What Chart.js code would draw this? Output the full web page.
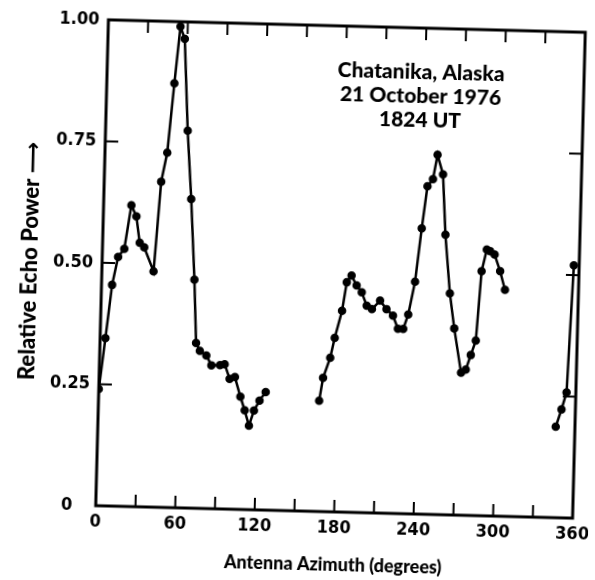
<!DOCTYPE html>
<html>
<head>
<meta charset="utf-8">
<script src="https://cdn.jsdelivr.net/npm/chart.js@4"></script>
<style>
  html, body { margin: 0; padding: 0; background: #fff; overflow: hidden; }
  /* the scanned figure sits slightly turned on the page */
  canvas { display: block; transform-origin: 340.5px 269px; transform: rotate(1.5deg); }
</style>
</head>
<body>
<canvas id="echo_chart" width="595" height="580"></canvas>
<script>
// azimuth (degrees) and relative echo power, null = no data (gap in trace)
const azimuth = [
  0, 4, 8, 12, 16.5, 21, 25, 28, 31.5, 39, 43, 47, 51, 54.5, 58, 62, 66, 70, 72.5, 75.5,
  80.5, 84.5, 91, 94.5, 98.5, 102.5, 107, 110.5, 114, 117.5, 121.5, 126,
  146,
  166.5, 169, 174, 177, 182, 185, 188.5, 192.5, 196.5, 200.5, 204.5, 210.5, 215.5, 220.5,
  224.5, 228.5, 232, 236.5, 240.5, 244, 248, 251, 255.5, 258.5, 263, 267, 273, 276.5,
  280, 283.5, 286.5, 290, 292.5, 296, 300.5, 304.5,
  325,
  345.5, 349.5, 353, 356
];
const echoPower = [
  0.24, 0.345, 0.455, 0.513, 0.53, 0.62, 0.597, 0.543, 0.534, 0.485, 0.67, 0.73, 0.873, 0.99, 0.965, 0.776, 0.636, 0.47, 0.34, 0.324,
  0.315, 0.295, 0.296, 0.298, 0.268, 0.272, 0.232, 0.204, 0.173, 0.204, 0.225, 0.243,
  null,
  0.228, 0.275, 0.317, 0.358, 0.414, 0.473, 0.487, 0.467, 0.453, 0.426, 0.419, 0.437, 0.42, 0.407,
  0.38, 0.38, 0.41, 0.478, 0.588, 0.675, 0.69, 0.74, 0.70, 0.576, 0.456, 0.384, 0.293, 0.30,
  0.33, 0.36, 0.503, 0.548, 0.545, 0.538, 0.504, 0.466,
  null,
  0.187, 0.223, 0.258, 0.52
];

const xTicks = [0, 60, 120, 180, 240, 300, 360];
const xMinorTicks = [30, 60, 90, 120, 150, 180, 210, 240, 270, 300, 330];
const yTicks = [0, 0.25, 0.5, 0.75, 1];
const yTickLabels = ['0\u2007\u2009', '0.25', '0.50', '0.75', '1.00'];
const yMinorTicks = [0.25, 0.5, 0.75];

const noteLines = ['Chatanika, Alaska', '21 October 1976', '1824 UT'];
const noteX = 237;
const noteY = [0.908, 0.859, 0.811];

const labelFont = "'Liberation Sans Narrow', 'DejaVu Sans Condensed', sans-serif";
const textFont = "Lato, 'DejaVu Sans', sans-serif";

// box round the plot with short inward ticks on all four sides
const frameTicks = {
  id: 'frameTicks',
  beforeDatasetsDraw(chart) {
    const { ctx, chartArea: a, scales: { x, y } } = chart;
    ctx.save();
    ctx.strokeStyle = '#000';
    ctx.lineWidth = 3;
    ctx.strokeRect(a.left, a.top, a.right - a.left, a.bottom - a.top);
    ctx.lineWidth = 2;
    ctx.beginPath();
    xMinorTicks.forEach(v => {
      const px = x.getPixelForValue(v);
      ctx.moveTo(px, a.bottom); ctx.lineTo(px, a.bottom - 12);
      ctx.moveTo(px, a.top); ctx.lineTo(px, a.top + 12);
    });
    yMinorTicks.forEach(v => {
      const py = y.getPixelForValue(v);
      ctx.moveTo(a.left, py); ctx.lineTo(a.left + 13, py);
      ctx.moveTo(a.right, py); ctx.lineTo(a.right - 13, py);
    });
    ctx.stroke();
    ctx.restore();
  }
};

const note = {
  id: 'note',
  afterDraw(chart) {
    const { ctx, scales: { x, y } } = chart;
    ctx.save();
    ctx.fillStyle = '#000';
    ctx.font = '900 21px ' + textFont;
    ctx.textAlign = 'center';
    ctx.textBaseline = 'middle';
    noteLines.forEach((t, i) => {
      ctx.fillText(t, x.getPixelForValue(noteX), y.getPixelForValue(noteY[i]));
    });
    ctx.restore();
  }
};

new Chart(document.getElementById('echo_chart'), {
  type: 'line',
  data: {
    datasets: [{
      data: azimuth.map((a, i) => ({ x: a, y: echoPower[i] })),
      borderColor: '#000',
      backgroundColor: '#000',
      borderWidth: 2.5,
      pointRadius: 3,
      pointHoverRadius: 3,
      tension: 0,
      spanGaps: false
    }]
  },
  options: {
    responsive: false,
    animation: false,
    layout: { padding: { top: 26, right: 16, left: 0, bottom: 0 } },
    plugins: { legend: { display: false }, tooltip: { enabled: false } },
    scales: {
      x: {
        type: 'linear',
        min: 0,
        max: 360,
        afterFit(s) { s.height = 68; s.paddingLeft = 0; s.paddingRight = 0; },
        afterBuildTicks(s) { s.ticks = xTicks.map(v => ({ value: v })); },
        grid: { display: false, tickLength: 0 },
        border: { display: false },
        ticks: {
          padding: 6,
          maxRotation: 0,
          color: '#000',
          font: { family: labelFont, size: 18, weight: 'bold' }
        },
        title: {
          display: true,
          text: 'Antenna Azimuth (degrees)',
          color: '#000',
          font: { family: textFont, size: 18, weight: '900' },
          padding: { top: 4, bottom: 4 }
        }
      },
      y: {
        min: 0,
        max: 1,
        afterFit(s) { s.width = 102; },
        afterBuildTicks(s) { s.ticks = yTicks.map(v => ({ value: v })); },
        grid: { display: false, tickLength: 0 },
        border: { display: false },
        ticks: {
          padding: 9,
          color: '#000',
          font: { family: labelFont, size: 18, weight: 'bold' },
          callback: v => yTickLabels[yTicks.indexOf(v)]
        },
        title: {
          display: true,
          text: 'Relative Echo Power \u27F6',
          color: '#000',
          font: { family: textFont, size: 22, weight: '900' },
          padding: { top: 17, bottom: 0 }
        }
      }
    }
  },
  plugins: [frameTicks, note]
});
</script>
</body>
</html>
